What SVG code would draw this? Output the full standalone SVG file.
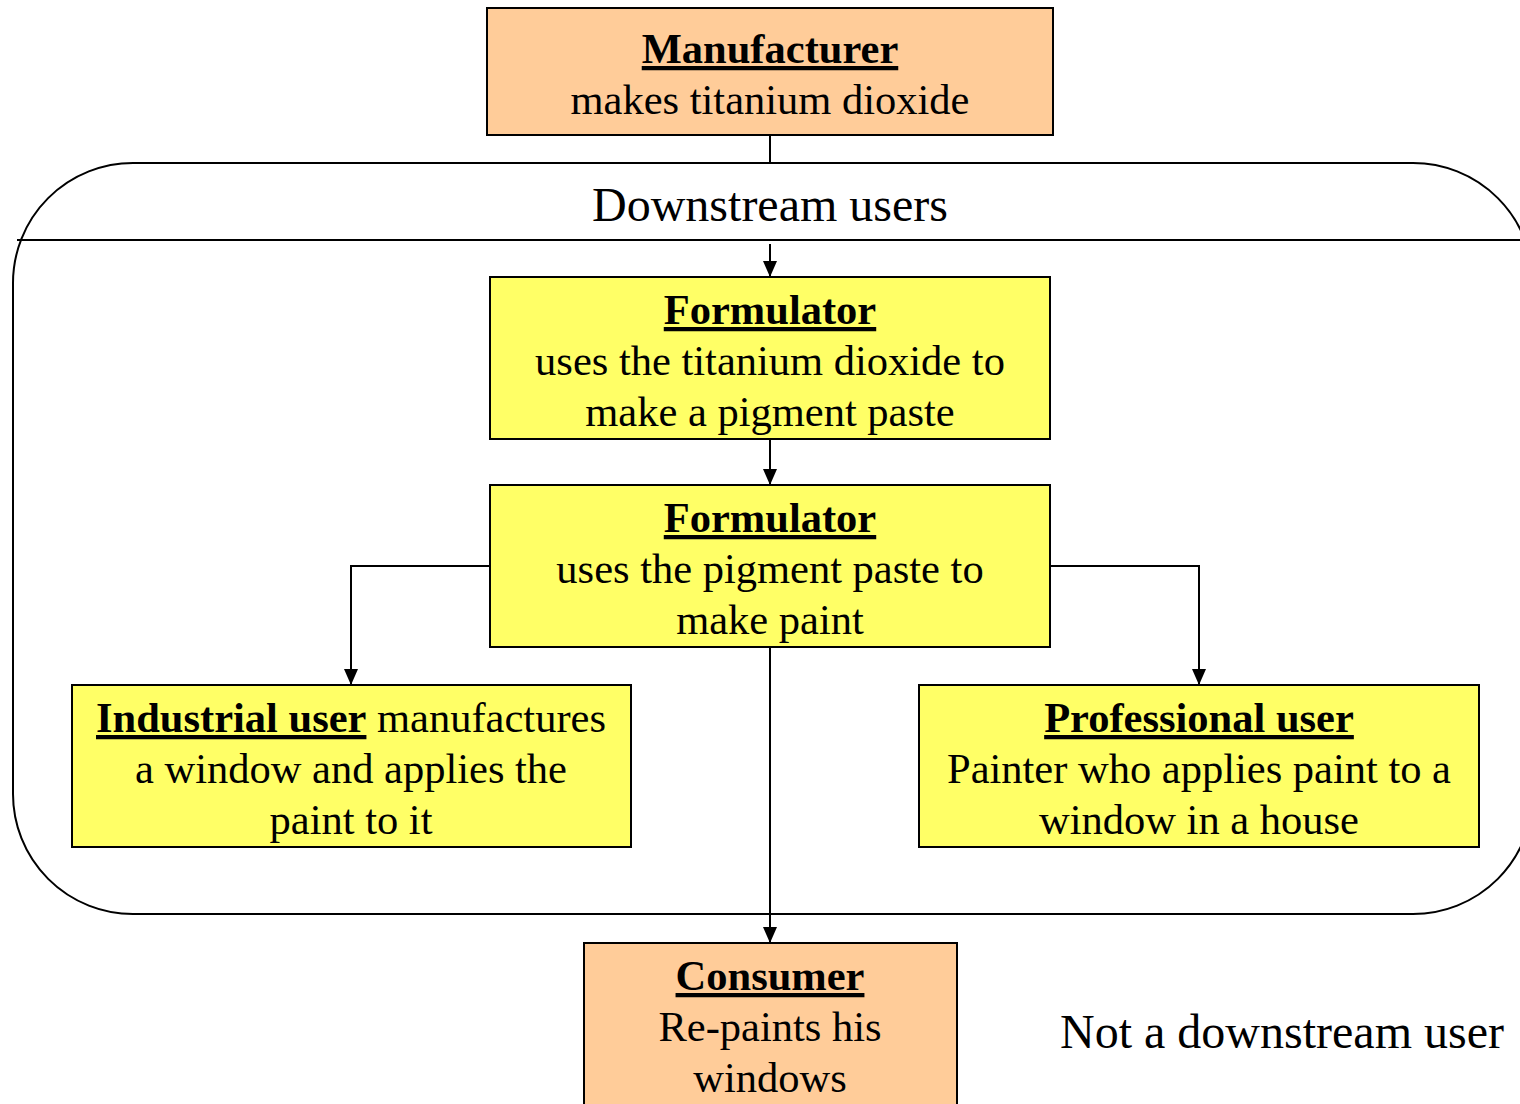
<svg xmlns="http://www.w3.org/2000/svg" width="1520" height="1104" viewBox="0 0 1520 1104">
<defs>
<style>
text{font-family:"Liberation Serif","Times New Roman",serif;font-size:42.5px;fill:#000;text-anchor:middle}
.b{font-weight:bold;text-decoration:underline}
.lbl{font-size:48px}
.peach{fill:#FFCC99;stroke:#000;stroke-width:2}
.yel{fill:#FFFF66;stroke:#000;stroke-width:2}
.ln{fill:none;stroke:#000;stroke-width:2}
</style>
<marker id="ah" viewBox="0 0 16 14" refX="16" refY="7" markerWidth="16" markerHeight="14" markerUnits="userSpaceOnUse" orient="auto">
<path d="M0,0 L16,7 L0,14 Z" fill="#000"/>
</marker>
</defs>
<rect width="1520" height="1104" fill="#fff"/>
<g id="downstream-group">
<rect x="13" y="163" width="1520" height="751" rx="120" ry="120" fill="#fff" stroke="#000" stroke-width="2"/>
<line x1="17" y1="240" x2="1520" y2="240" stroke="#000" stroke-width="2"/>
<text class="lbl" x="770" y="221">Downstream users</text>
</g>
<g id="connectors">
<line class="ln" x1="770" y1="135" x2="770" y2="163"/>
<path class="ln" d="M770,244 V277" marker-end="url(#ah)"/>
<path class="ln" d="M770,439 V485" marker-end="url(#ah)"/>
<path class="ln" d="M490,566 H351 V685" marker-end="url(#ah)"/>
<path class="ln" d="M1050,566 H1199 V685" marker-end="url(#ah)"/>
<path class="ln" d="M770,647 V943" marker-end="url(#ah)"/>
</g>
<g id="manufacturer">
<rect class="peach" x="487" y="8" width="566" height="127"/>
<text class="b" x="770" y="63">Manufacturer</text>
<text x="770" y="114">makes titanium dioxide</text>
</g>
<g id="formulator1">
<rect class="yel" x="490" y="277" width="560" height="162"/>
<text class="b" x="770" y="324">Formulator</text>
<text x="770" y="375">uses the titanium dioxide to</text>
<text x="770" y="426">make a pigment paste</text>
</g>
<g id="formulator2">
<rect class="yel" x="490" y="485" width="560" height="162"/>
<text class="b" x="770" y="532">Formulator</text>
<text x="770" y="583">uses the pigment paste to</text>
<text x="770" y="634">make paint</text>
</g>
<g id="industrial-user">
<rect class="yel" x="72" y="685" width="559" height="162"/>
<text x="351" y="732"><tspan class="b">Industrial user</tspan> manufactures</text>
<text x="351" y="783">a window and applies the</text>
<text x="351" y="834">paint to it</text>
</g>
<g id="professional-user">
<rect class="yel" x="919" y="685" width="560" height="162"/>
<text class="b" x="1199" y="732">Professional user</text>
<text x="1199" y="783">Painter who applies paint to a</text>
<text x="1199" y="834">window in a house</text>
</g>
<g id="consumer">
<rect class="peach" x="584" y="943" width="373" height="170"/>
<text class="b" x="770" y="990">Consumer</text>
<text x="770" y="1041">Re-paints his</text>
<text x="770" y="1092">windows</text>
</g>
<g id="not-downstream">
<text class="lbl" x="1282" y="1048">Not a downstream user</text>
</g>
</svg>
